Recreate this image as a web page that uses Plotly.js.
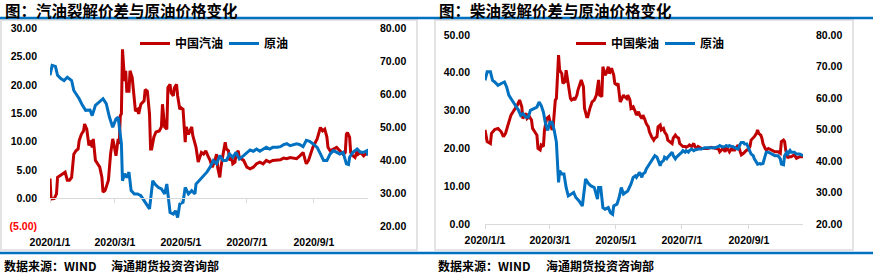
<!DOCTYPE html>
<html>
<head>
<meta charset="utf-8">
<script src="https://cdn.plot.ly/plotly-3.0.1.min.js"></script>
<style>html,body{margin:0;padding:0;background:#fff;}#chart{width:873px;height:274px;}</style>
</head>
<body>
<div id="chart"></div>
<script>
// ---------- DATA ----------
const gasolineDates = ["2020-1-1","2020-1-2","2020-1-5","2020-1-7","2020-1-8","2020-1-10","2020-1-13","2020-1-15","2020-1-17","2020-1-19","2020-1-21","2020-1-23","2020-1-25","2020-1-27","2020-1-28","2020-1-30","2020-2-1","2020-2-2","2020-2-4","2020-2-6","2020-2-7","2020-2-9","2020-2-10","2020-2-12","2020-2-14","2020-2-16","2020-2-18","2020-2-19","2020-2-21","2020-2-24","2020-2-26","2020-2-28","2020-2-29","2020-3-2","2020-3-4","2020-3-5","2020-3-6","2020-3-7","2020-3-8","2020-3-10","2020-3-11","2020-3-12","2020-3-14","2020-3-15","2020-3-17","2020-3-18","2020-3-20","2020-3-22","2020-3-23","2020-3-25","2020-3-28","2020-3-29","2020-3-31","2020-4-2","2020-4-3","2020-4-4","2020-4-6","2020-4-8","2020-4-11","2020-4-13","2020-4-14","2020-4-16","2020-4-18","2020-4-19","2020-4-21","2020-4-22","2020-4-24","2020-4-25","2020-4-27","2020-4-28","2020-4-30","2020-5-1","2020-5-3","2020-5-5","2020-5-6","2020-5-8","2020-5-11","2020-5-12","2020-5-15","2020-5-17","2020-5-20","2020-5-22","2020-5-24","2020-5-26","2020-5-28","2020-5-30","2020-6-1","2020-6-3","2020-6-4","2020-6-6","2020-6-7","2020-6-9","2020-6-11","2020-6-12","2020-6-14","2020-6-15","2020-6-17","2020-6-18","2020-6-20","2020-6-21","2020-6-23","2020-6-24","2020-6-26","2020-6-28","2020-7-1","2020-7-4","2020-7-7","2020-7-10","2020-7-13","2020-7-16","2020-7-19","2020-7-22","2020-7-25","2020-7-28","2020-8-1","2020-8-4","2020-8-7","2020-8-10","2020-8-13","2020-8-16","2020-8-19","2020-8-22","2020-8-24","2020-8-25","2020-8-27","2020-8-28","2020-8-31","2020-9-4","2020-9-7","2020-9-9","2020-9-11","2020-9-13","2020-9-14","2020-9-16","2020-9-19","2020-9-22","2020-9-25","2020-9-28","2020-9-30","2020-10-1","2020-10-2","2020-10-4","2020-10-5","2020-10-7","2020-10-9","2020-10-11","2020-10-12","2020-10-14","2020-10-17","2020-10-20","2020-10-21"];
const gasolineVals = [3.5,-0.1,0.0,0.8,3.7,4.0,4.3,4.6,3.2,3.2,3.7,7.8,8.4,8.7,10.2,11.3,11.9,13.1,12.2,9.3,10.2,9.0,10.5,6.7,6.1,5.5,3.7,1.1,1.4,3.2,7.8,10.5,9.6,7.5,10.5,9.6,14.6,14.9,26.3,20.7,22.5,18.9,18.9,22.5,21.3,18.9,15.4,15.7,14.9,16.6,17.2,19.2,18.9,14.9,8.7,8.7,10.8,11.7,11.9,12.6,16.6,12.6,12.2,19.5,20.1,18.6,18.1,19.5,20.1,18.1,15.7,16.0,15.7,9.9,12.6,11.3,12.6,11.1,9.0,6.4,8.1,7.8,8.4,7.5,6.7,5.5,6.4,7.8,5.5,3.7,5.5,7.8,9.9,8.7,8.4,6.7,7.2,6.1,6.4,7.8,8.4,7.2,7.0,6.7,5.5,5.2,5.5,6.1,6.4,6.1,6.7,6.4,6.7,6.7,6.8,7.1,7.0,7.2,7.1,7.0,7.5,8.1,6.7,6.1,6.7,7.2,9.0,10.5,12.5,11.9,12.2,10.8,9.0,8.4,8.7,9.0,8.4,7.8,8.1,11.3,11.6,10.8,8.1,7.5,7.2,8.4,7.8,8.1,7.5,8.1,7.6];

const crudeLDates = ["2020-1-1","2020-1-3","2020-1-6","2020-1-8","2020-1-11","2020-1-14","2020-1-17","2020-1-21","2020-1-23","2020-1-26","2020-1-28","2020-1-31","2020-2-3","2020-2-7","2020-2-9","2020-2-12","2020-2-16","2020-2-19","2020-2-22","2020-2-25","2020-2-28","2020-3-2","2020-3-4","2020-3-5","2020-3-7","2020-3-8","2020-3-10","2020-3-12","2020-3-14","2020-3-16","2020-3-19","2020-3-22","2020-3-25","2020-3-28","2020-3-31","2020-4-2","2020-4-5","2020-4-7","2020-4-10","2020-4-13","2020-4-16","2020-4-18","2020-4-21","2020-4-24","2020-4-26","2020-4-28","2020-4-30","2020-5-3","2020-5-5","2020-5-8","2020-5-11","2020-5-14","2020-5-15","2020-5-18","2020-5-21","2020-5-25","2020-5-28","2020-5-31","2020-6-3","2020-6-6","2020-6-9","2020-6-12","2020-6-15","2020-6-18","2020-6-21","2020-6-24","2020-6-28","2020-7-1","2020-7-4","2020-7-7","2020-7-10","2020-7-13","2020-7-16","2020-7-19","2020-7-22","2020-7-25","2020-7-29","2020-8-1","2020-8-4","2020-8-7","2020-8-10","2020-8-13","2020-8-16","2020-8-19","2020-8-22","2020-8-25","2020-8-28","2020-8-31","2020-9-4","2020-9-7","2020-9-10","2020-9-13","2020-9-16","2020-9-19","2020-9-22","2020-9-25","2020-9-28","2020-10-1","2020-10-3","2020-10-4","2020-10-7","2020-10-11","2020-10-14","2020-10-17","2020-10-20","2020-10-21"];
const crudeLVals = [65.8,68.8,68.5,65.8,64.8,64.2,65.2,64.2,61.2,59.7,58.7,56.7,55.2,55.3,53.6,56.7,57.7,58.7,57.2,53.1,50.1,52.6,53.1,50.1,45.1,33.9,36.0,34.9,36.5,30.9,29.9,29.9,29.4,27.9,26.4,25.4,33.9,32.9,31.9,31.4,29.9,32.9,24.3,23.8,24.8,22.8,26.9,27.4,31.9,29.9,30.9,29.9,32.9,33.9,34.9,36.5,38.0,40.0,39.0,41.5,40.0,40.0,42.0,41.0,42.5,40.5,41.5,42.5,43.2,42.8,43.5,42.8,43.5,44.0,43.5,44.0,44.0,44.2,44.8,45.1,44.5,44.8,45.1,44.8,44.2,46.1,45.8,45.1,44.0,42.0,40.0,40.0,42.0,43.0,42.5,42.0,42.5,39.0,38.8,41.0,42.5,43.5,42.5,42.5,43.0,41.5];

const dieselDates = ["2020-1-1","2020-1-3","2020-1-6","2020-1-7","2020-1-10","2020-1-13","2020-1-16","2020-1-18","2020-1-20","2020-1-23","2020-1-25","2020-1-27","2020-1-29","2020-1-31","2020-2-2","2020-2-4","2020-2-5","2020-2-8","2020-2-9","2020-2-11","2020-2-13","2020-2-14","2020-2-16","2020-2-18","2020-2-19","2020-2-21","2020-2-22","2020-2-24","2020-2-25","2020-2-27","2020-2-29","2020-3-1","2020-3-3","2020-3-4","2020-3-6","2020-3-7","2020-3-9","2020-3-10","2020-3-12","2020-3-13","2020-3-15","2020-3-16","2020-3-18","2020-3-20","2020-3-21","2020-3-23","2020-3-24","2020-3-26","2020-3-27","2020-3-29","2020-3-30","2020-4-1","2020-4-2","2020-4-4","2020-4-5","2020-4-7","2020-4-9","2020-4-11","2020-4-13","2020-4-15","2020-4-16","2020-4-18","2020-4-19","2020-4-21","2020-4-22","2020-4-24","2020-4-25","2020-4-27","2020-4-29","2020-4-30","2020-5-2","2020-5-3","2020-5-5","2020-5-6","2020-5-8","2020-5-9","2020-5-11","2020-5-12","2020-5-14","2020-5-15","2020-5-17","2020-5-19","2020-5-20","2020-5-22","2020-5-23","2020-5-25","2020-5-26","2020-5-28","2020-5-29","2020-5-31","2020-6-1","2020-6-3","2020-6-5","2020-6-6","2020-6-8","2020-6-9","2020-6-11","2020-6-12","2020-6-14","2020-6-15","2020-6-17","2020-6-18","2020-6-20","2020-6-22","2020-6-23","2020-6-25","2020-6-26","2020-6-28","2020-6-29","2020-7-1","2020-7-2","2020-7-4","2020-7-5","2020-7-7","2020-7-8","2020-7-10","2020-7-12","2020-7-13","2020-7-15","2020-7-16","2020-7-19","2020-7-22","2020-7-25","2020-7-28","2020-8-1","2020-8-4","2020-8-5","2020-8-7","2020-8-8","2020-8-10","2020-8-11","2020-8-13","2020-8-14","2020-8-16","2020-8-17","2020-8-19","2020-8-21","2020-8-22","2020-8-24","2020-8-25","2020-8-27","2020-8-28","2020-8-30","2020-8-31","2020-9-2","2020-9-3","2020-9-5","2020-9-6","2020-9-8","2020-9-9","2020-9-10","2020-9-12","2020-9-13","2020-9-14","2020-9-16","2020-9-17","2020-9-19","2020-9-22","2020-9-25","2020-9-28","2020-9-30","2020-10-1","2020-10-3","2020-10-4","2020-10-5","2020-10-7","2020-10-8","2020-10-10","2020-10-13","2020-10-15","2020-10-18","2020-10-21"];
const dieselVals = [24.9,21.8,21.3,24.0,25.0,25.3,24.4,23.1,24.0,26.6,28.8,29.7,30.6,31.5,32.8,31.0,27.9,29.3,27.9,28.4,27.5,25.3,24.4,23.5,20.0,19.6,20.9,20.5,24.9,27.9,28.4,27.1,24.9,25.7,32.8,33.2,44.7,40.7,39.8,37.2,37.7,40.7,37.2,33.2,32.8,33.2,32.8,34.1,35.5,37.2,38.1,36.3,30.6,28.4,28.4,30.6,32.3,32.8,34.1,38.1,34.1,33.7,41.6,39.4,39.8,41.6,39.8,41.2,39.4,37.2,36.8,37.2,32.3,32.8,34.1,33.7,33.2,34.1,32.8,30.6,31.0,29.7,28.8,29.7,28.8,27.9,28.8,27.5,26.6,25.7,24.4,23.1,22.2,22.7,23.1,25.7,26.2,24.9,25.3,24.4,23.5,22.2,21.8,21.3,22.7,23.5,23.1,22.7,21.3,20.9,20.5,20.5,20.3,20.6,20.9,20.5,21.3,20.5,20.0,20.5,20.0,20.0,20.0,20.3,20.0,19.8,19.1,19.6,20.0,19.1,20.0,19.6,19.1,20.0,19.6,19.6,20.5,20.9,19.1,18.3,18.7,19.1,19.6,19.6,20.5,22.2,22.7,23.1,24.0,24.9,24.0,23.5,22.7,21.3,20.0,19.6,20.0,19.6,19.1,19.1,18.7,21.8,22.2,21.8,19.6,17.4,17.8,17.8,18.3,17.4,17.8,17.8];

const crudeRDates = ["2020-1-1","2020-1-3","2020-1-6","2020-1-8","2020-1-10","2020-1-13","2020-1-16","2020-1-19","2020-1-21","2020-1-23","2020-1-26","2020-1-28","2020-1-30","2020-2-1","2020-2-3","2020-2-5","2020-2-8","2020-2-10","2020-2-12","2020-2-15","2020-2-18","2020-2-20","2020-2-22","2020-2-24","2020-2-26","2020-2-28","2020-3-1","2020-3-3","2020-3-5","2020-3-7","2020-3-8","2020-3-9","2020-3-10","2020-3-12","2020-3-14","2020-3-16","2020-3-18","2020-3-21","2020-3-23","2020-3-25","2020-3-28","2020-3-31","2020-4-2","2020-4-3","2020-4-6","2020-4-8","2020-4-11","2020-4-14","2020-4-15","2020-4-17","2020-4-19","2020-4-21","2020-4-24","2020-4-26","2020-4-28","2020-4-29","2020-5-2","2020-5-4","2020-5-6","2020-5-8","2020-5-10","2020-5-12","2020-5-15","2020-5-17","2020-5-19","2020-5-20","2020-5-22","2020-5-23","2020-5-25","2020-5-26","2020-5-28","2020-5-29","2020-5-31","2020-6-1","2020-6-3","2020-6-5","2020-6-6","2020-6-8","2020-6-9","2020-6-11","2020-6-12","2020-6-14","2020-6-15","2020-6-17","2020-6-18","2020-6-20","2020-6-22","2020-6-23","2020-6-25","2020-6-26","2020-6-28","2020-6-29","2020-7-1","2020-7-2","2020-7-4","2020-7-5","2020-7-7","2020-7-8","2020-7-10","2020-7-12","2020-7-13","2020-7-15","2020-7-16","2020-7-19","2020-7-22","2020-7-25","2020-7-28","2020-8-1","2020-8-4","2020-8-5","2020-8-7","2020-8-8","2020-8-10","2020-8-11","2020-8-13","2020-8-14","2020-8-16","2020-8-17","2020-8-19","2020-8-21","2020-8-22","2020-8-24","2020-8-25","2020-8-27","2020-8-28","2020-8-30","2020-8-31","2020-9-2","2020-9-3","2020-9-5","2020-9-6","2020-9-8","2020-9-9","2020-9-11","2020-9-12","2020-9-14","2020-9-16","2020-9-17","2020-9-19","2020-9-22","2020-9-25","2020-9-28","2020-9-30","2020-10-1","2020-10-3","2020-10-4","2020-10-6","2020-10-7","2020-10-9","2020-10-10","2020-10-13","2020-10-15","2020-10-18","2020-10-21"];
const crudeRVals = [65.6,68.3,68.3,65.6,65.1,64.0,64.6,65.1,63.5,60.9,59.3,58.2,57.1,56.1,54.5,55.0,53.9,53.9,56.1,56.6,57.1,58.7,57.6,55.5,51.8,49.7,52.3,52.3,49.7,46.0,38.0,33.2,36.9,35.9,35.9,31.6,28.9,29.5,30.0,28.4,27.3,25.7,30.5,34.3,32.7,32.1,31.6,27.9,31.6,31.6,25.2,24.7,25.2,23.6,23.1,25.7,26.3,28.4,31.6,29.5,30.0,30.5,32.7,34.8,35.3,34.8,35.9,36.4,34.8,35.9,36.4,37.4,38.5,39.0,40.1,41.2,41.7,41.2,40.1,38.5,39.6,40.1,41.2,40.7,41.2,42.2,42.8,41.7,40.7,41.2,41.7,42.2,42.8,43.3,42.8,43.3,42.8,43.3,43.8,43.3,43.5,43.8,43.8,43.8,44.2,44.2,44.2,44.2,44.6,44.9,44.6,44.4,44.6,44.9,44.6,44.9,44.6,44.6,44.2,43.8,43.8,45.4,45.9,45.9,45.4,45.4,44.6,43.3,42.2,41.7,40.7,39.6,39.0,39.2,39.0,39.2,41.7,42.8,42.8,42.2,41.7,41.7,40.7,39.0,38.8,41.7,42.8,42.2,43.3,42.8,42.8,42.2,42.2,41.7];

const tickDates = ["2020-01-01","2020-03-01","2020-05-01","2020-07-01","2020-09-01"];
const tickLabels = ["2020/1/1","2020/3/1","2020/5/1","2020/7/1","2020/9/1"];
const leftTickVals = [-5,0,5,10,15,20,25,30];
const leftTickText = ['<span style="color:#ff0000">(5.00)</span>',"0.00","5.00","10.00","15.00","20.00","25.00","30.00"];
const dieselTickVals = [0,10,20,30,40,50];
const dieselTickText = ["0.00","10.00","20.00","30.00","40.00","50.00"];
const crudeTickVals = [20,30,40,50,60,70,80];
const crudeTickText = ["20.00","30.00","40.00","50.00","60.00","70.00","80.00"];
const xRange = ["2020-01-01","2020-10-21"];

const titleLeft = "图：汽油裂解价差与原油价格变化";
const titleRight = "图：柴油裂解价差与原油价格变化";
const sourceA = "数据来源：WIND";
const sourceB = "海通期货投资咨询部";

// ---------- LAYOUT HELPERS ----------
const W = 873, H = 274;
const fx = p => p / W;
const fy = p => 1 - p / H;
const RED = "#C00000", BLUE = "#0070C0";
const tickFont = {family: "Liberation Sans, Arial", size: 10.5, color: "#000", weight: "bold"};
const cjk = "Noto Sans CJK SC";

const traces = [
  {x: gasolineDates, y: gasolineVals, name: "中国汽油", type: "scatter", mode: "lines",
   line: {color: RED, width: 3}, xaxis: "x", yaxis: "y", legend: "legend"},
  {x: crudeLDates, y: crudeLVals, name: "原油", type: "scatter", mode: "lines",
   line: {color: BLUE, width: 3}, xaxis: "x", yaxis: "y2", legend: "legend"},
  {x: dieselDates, y: dieselVals, name: "中国柴油", type: "scatter", mode: "lines",
   line: {color: RED, width: 3}, xaxis: "x2", yaxis: "y3", legend: "legend2"},
  {x: crudeRDates, y: crudeRVals, name: "原油", type: "scatter", mode: "lines",
   line: {color: BLUE, width: 3}, xaxis: "x2", yaxis: "y4", legend: "legend2"}
];

const xCommon = {
  type: "date", range: xRange, tickmode: "array", tickvals: tickDates, ticktext: tickLabels,
  tickfont: tickFont, showgrid: false, zeroline: false, showline: true, linecolor: "#d9d9d9",
  linewidth: 1, ticks: "outside", ticklen: 4, tickcolor: "#d9d9d9", fixedrange: true
};
const yCommon = {showgrid: false, zeroline: false, showline: false, ticks: "", tickfont: tickFont, fixedrange: true};

const legendCommon = {orientation: "h", xanchor: "left", yanchor: "top",
  font: {family: cjk, size: 12, color: "#000", weight: "bold"}, bgcolor: "rgba(0,0,0,0)",
  entrywidth: 44, entrywidthmode: "pixels", itemwidth: 30, tracegroupgap: 0};

const layout = {
  width: W, height: H,
  margin: {l: 0, r: 0, t: 0, b: 0},
  paper_bgcolor: "#fff", plot_bgcolor: "rgba(0,0,0,0)",
  hovermode: false,
  xaxis: Object.assign({}, xCommon, {domain: [fx(50), fx(368)], anchor: "free", position: fy(198), ticklabelstandoff: 30}),
  yaxis: Object.assign({}, yCommon, {domain: [fy(226.7), fy(28.3)], range: [-5, 30], tickmode: "array",
    tickvals: leftTickVals, ticktext: leftTickText, anchor: "free", position: fx(37)}),
  yaxis2: Object.assign({}, yCommon, {domain: [fy(226.7), fy(28.3)], range: [20, 80], tickmode: "array",
    tickvals: crudeTickVals, ticktext: crudeTickText, overlaying: "y", side: "right", anchor: "free", position: fx(379)}),
  xaxis2: Object.assign({}, xCommon, {domain: [fx(485), fx(803)], anchor: "free", position: fy(224), ticklabelstandoff: 2}),
  yaxis3: Object.assign({}, yCommon, {domain: [fy(224), fy(35)], range: [0, 50], tickmode: "array",
    tickvals: dieselTickVals, ticktext: dieselTickText, anchor: "free", position: fx(470)}),
  yaxis4: Object.assign({}, yCommon, {domain: [fy(223.5), fy(35)], range: [20, 80], tickmode: "array",
    tickvals: crudeTickVals, ticktext: crudeTickText, overlaying: "y3", side: "right", anchor: "free", position: fx(815)}),
  legend: Object.assign({}, legendCommon, {x: fx(135), y: fy(29)}),
  legend2: Object.assign({}, legendCommon, {x: fx(571), y: fy(29)}),
  shapes: [
    {type: "rect", xref: "paper", yref: "paper", x0: fx(1), x1: fx(417), y0: fy(250), y1: fy(20),
     line: {color: "#e3e3e3", width: 2}, layer: "below"},
    {type: "rect", xref: "paper", yref: "paper", x0: fx(435), x1: fx(853), y0: fy(250), y1: fy(20),
     line: {color: "#e3e3e3", width: 2}, layer: "below"},
    {type: "line", xref: "paper", yref: "paper", x0: 0, x1: 1, y0: fy(18), y1: fy(18),
     line: {color: "#0070C0", width: 2.5}},
    {type: "line", xref: "paper", yref: "paper", x0: 0, x1: 1, y0: fy(253), y1: fy(253),
     line: {color: "#0070C0", width: 2.5}}
  ],
  annotations: [
    {text: titleLeft, xref: "paper", yref: "paper", x: fx(3), y: fy(10), xanchor: "left", yanchor: "middle",
     showarrow: false, font: {family: cjk, size: 15.5, color: "#000", weight: "bold"}},
    {text: titleRight, xref: "paper", yref: "paper", x: fx(437), y: fy(10), xanchor: "left", yanchor: "middle",
     showarrow: false, font: {family: cjk, size: 15.5, color: "#000", weight: "bold"}},
    {text: sourceA, xref: "paper", yref: "paper", x: fx(2), y: fy(265), xanchor: "left", yanchor: "middle",
     showarrow: false, font: {family: cjk, size: 12, color: "#000", weight: "bold"}},
    {text: sourceB, xref: "paper", yref: "paper", x: fx(109), y: fy(265), xanchor: "left", yanchor: "middle",
     showarrow: false, font: {family: cjk, size: 12, color: "#000", weight: "bold"}},
    {text: sourceA, xref: "paper", yref: "paper", x: fx(436), y: fy(265), xanchor: "left", yanchor: "middle",
     showarrow: false, font: {family: cjk, size: 12, color: "#000", weight: "bold"}},
    {text: sourceB, xref: "paper", yref: "paper", x: fx(544), y: fy(265), xanchor: "left", yanchor: "middle",
     showarrow: false, font: {family: cjk, size: 12, color: "#000", weight: "bold"}}
  ]
};

Plotly.newPlot("chart", traces, layout, {displayModeBar: false, staticPlot: true});
</script>
</body>
</html>
